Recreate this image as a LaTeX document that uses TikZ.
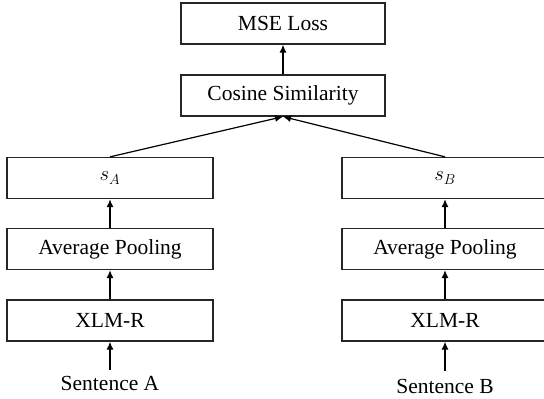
\documentclass[tikz,border=0pt]{standalone}
\usepackage{fontspec}
\setmainfont{Liberation Serif}
\usetikzlibrary{arrows.meta}
\begin{document}
\begin{tikzpicture}[x=1pt,y=-1pt,
  box/.style={draw=black!85,line width=1.3pt,minimum width=204pt,minimum height=41pt,inner sep=0pt,font=\fontsize{21.5}{24}\selectfont},
  lbl/.style={inner sep=0pt,font=\fontsize{21.5}{24}\selectfont},
  arr/.style={line width=1.2pt,-{Latex[length=8pt,width=7pt]}}]
\useasboundingbox (0,0) rectangle (544,399);
\clip (0,0) rectangle (544,399);
\node[box] (mse) at (283,23.5) {MSE Loss};
\node[box] (cos) at (283,95.5) {Cosine Similarity};
\node[box,minimum width=206pt] (sa) at (110,178) {$s_A$};
\node[box,minimum width=206pt] (apa) at (110,249) {Average Pooling};
\node[box,minimum width=206pt] (xa) at (110,320.5) {XLM-R};
\node[lbl] (ta) at (110,383) {Sentence A};
\node[box,minimum width=206pt] (sb) at (445,178) {$s_B$};
\node[box,minimum width=206pt] (apb) at (445,249) {Average Pooling};
\node[box,minimum width=206pt] (xb) at (445,320.5) {XLM-R};
\node[lbl] (tb) at (445,386) {Sentence B};
\coordinate (ca) at (110,370);
\coordinate (cb) at (445,371);
\draw[arr] (ca) -- (xa.south);
\draw[arr] (cb) -- (xb.south);
\draw[arr] (xa) -- (apa);
\draw[arr] (apa) -- (sa);
\draw[arr] (xb) -- (apb);
\draw[arr] (apb) -- (sb);
\draw[arr] (sa.north) -- (cos.south);
\draw[arr] (sb.north) -- (cos.south);
\draw[arr] (cos) -- (mse);
\end{tikzpicture}
\end{document}
